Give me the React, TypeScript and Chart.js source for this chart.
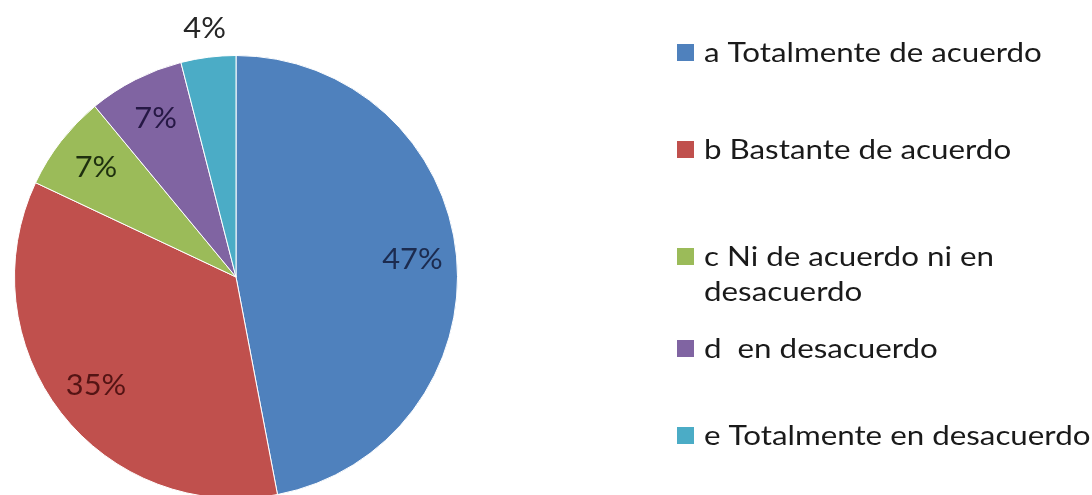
import React, { useEffect, useRef } from "react";
import { Chart, registerables } from "chart.js";

Chart.register(...registerables);

// ---- data ----
const categories: (string | string[])[] = [
  "a Totalmente de acuerdo",
  "b Bastante de acuerdo",
  ["c Ni de acuerdo ni en", "desacuerdo"],
  "d  en desacuerdo",
  "e Totalmente en desacuerdo",
];
const percentages: number[] = [47, 35, 7, 7, 4];

// ---- styles / layout ----
const sliceColors = ["#4F81BD", "#C0504D", "#9BBB59", "#8064A2", "#4BACC6"];
const labelColors = ["#1c2b4f", "#541414", "#1f300f", "#261845", "#262626"];
const legendBaselines = [62, 159, 266, 358, 445];
const FONT = "Lato, 'Open Sans', sans-serif";
const LEGEND_STRETCH = 1.16;
const LABEL_STRETCH = 1.1;

const pctLabels = {
  id: "pctLabels",
  afterDatasetsDraw(chart: any) {
    const ctx = chart.ctx as CanvasRenderingContext2D;
    const meta = chart.getDatasetMeta(0);
    ctx.save();
    ctx.font = `28px ${FONT}`;
    ctx.textAlign = "center";
    ctx.textBaseline = "middle";
    meta.data.forEach((arc: any, i: number) => {
      const { x, y, startAngle, endAngle, outerRadius } = arc.getProps(
        ["x", "y", "startAngle", "endAngle", "outerRadius"],
        true
      );
      const mid = (startAngle + endAngle) / 2;
      const v = percentages[i];
      const r = v < 5 ? outerRadius * 1.13 : outerRadius * 0.8;
      ctx.save();
      ctx.translate(x + Math.cos(mid) * r, y + Math.sin(mid) * r);
      ctx.scale(LABEL_STRETCH, 1);
      ctx.fillStyle = labelColors[i];
      ctx.fillText(v + "%", 0, 0);
      ctx.restore();
    });
    ctx.restore();
  },
};

const sideLegend = {
  id: "sideLegend",
  afterDraw(chart: any) {
    const ctx = chart.ctx as CanvasRenderingContext2D;
    const labels = chart.data.labels as (string | string[])[];
    const colors = chart.data.datasets[0].backgroundColor as string[];
    ctx.save();
    ctx.font = `27px ${FONT}`;
    ctx.textAlign = "left";
    ctx.textBaseline = "alphabetic";
    labels.forEach((lab, i) => {
      const base = legendBaselines[i];
      ctx.fillStyle = colors[i];
      ctx.fillRect(677, base - 18, 17, 17);
      ctx.fillStyle = "#1a1a1a";
      const lines = Array.isArray(lab) ? lab : [lab];
      lines.forEach((ln, j) => {
        ctx.save();
        ctx.translate(704, base + j * 35);
        ctx.scale(LEGEND_STRETCH, 1);
        ctx.fillText(ln, 0, 0);
        ctx.restore();
      });
    });
    ctx.restore();
  },
};

export default function App() {
  const ref = useRef<HTMLCanvasElement | null>(null);
  useEffect(() => {
    if (!ref.current) return;
    const chart = new Chart(ref.current, {
      type: "pie",
      data: {
        labels: categories as any,
        datasets: [
          {
            data: percentages,
            backgroundColor: sliceColors,
            borderColor: "#ffffff",
            borderWidth: 1,
          },
        ],
      },
      options: {
        animation: false,
        responsive: false,
        devicePixelRatio: 1,
        layout: { padding: { left: 14, right: 634, top: 55, bottom: 61 } },
        plugins: {
          legend: { display: false },
          tooltip: { enabled: false },
        },
      },
      plugins: [pctLabels, sideLegend],
    });
    return () => chart.destroy();
  }, []);
  return (
    <div
      style={{
        position: "fixed",
        top: 0,
        left: 0,
        width: 1092,
        height: 495,
        overflow: "hidden",
        background: "#ffffff",
      }}
    >
      <canvas ref={ref} width={1092} height={560} style={{ display: "block" }} />
    </div>
  );
}
